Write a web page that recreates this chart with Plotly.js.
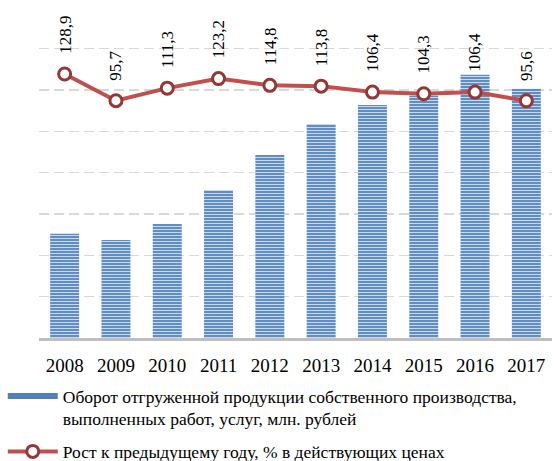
<!DOCTYPE html>
<html>
<head>
<meta charset="utf-8">
<script src="https://cdn.plot.ly/plotly-3.0.1.min.js"></script>
<style>html,body{margin:0;padding:0;background:#fff;}#chart{width:554px;height:461px;}</style>
</head>
<body>
<div id="chart"></div>
<script>
const years = ['2008','2009','2010','2011','2012','2013','2014','2015','2016','2017'];
const turnover = [2520, 2370, 2760, 3580, 4430, 5180, 5640, 5860, 6370, 6030];
const growth = [128.9, 95.7, 111.3, 123.2, 114.8, 113.8, 106.4, 104.3, 106.4, 95.6];
const growthLabels = ['128,9','95,7','111,3','123,2','114,8','113,8','106,4','104,3','106,4','95,6'];
const barName = 'Оборот отгруженной продукции собственного производства,<br>выполненных работ, услуг, млн. рублей';
const lineName = 'Рост к предыдущему году, % в действующих ценах';

const serif = 'Liberation Serif, Times New Roman, serif';

const traces = [
  {
    type: 'bar', x: years, y: turnover, name: barName, showlegend: false,
    marker: {
      color: '#4a7ebb',
      line: {width: 0},
      pattern: {shape: '-', fgcolor: '#c8d9f0', bgcolor: '#4a7ebb', size: 3, solidity: 0.45}
    },
    hoverinfo: 'skip'
  },
  {
    type: 'scatter', mode: 'lines', x: [years[0], years[1]], y: [null, null], name: barName,
    legendgroup: 'a', line: {color: '#4f81bd', width: 6}, showlegend: true, hoverinfo: 'skip'
  },
  {
    type: 'scatter', mode: 'lines+markers', x: years, y: growth, yaxis: 'y2', name: lineName,
    legendgroup: 'b',
    line: {color: '#c0504d', width: 4},
    marker: {symbol: 'circle', size: 12, color: '#ffffff', line: {color: '#953735', width: 3}},
    cliponaxis: false
  }
];

const annotations = years.map((yr, i) => ({
  x: i, y: growth[i], xref: 'x', yref: 'y2',
  text: growthLabels[i], showarrow: false, textangle: -90,
  yanchor: 'bottom', xanchor: 'center', yshift: 18,
  font: {family: serif, size: 17, color: '#000'}
}));

const layout = {
  width: 554, height: 461,
  margin: {l: 39, r: 2, t: 42, b: 123, autoexpand: false},
  paper_bgcolor: '#fff', plot_bgcolor: '#fff',
  bargap: 0.435,
  font: {family: serif, color: '#000'},
  xaxis: {
    type: 'category', categoryorder: 'array', categoryarray: years, range: [-0.5, 9.5],
    showgrid: false, showline: true, linecolor: '#bfbfbf', linewidth: 2.5,
    ticks: '', tickfont: {family: serif, size: 19, color: '#000'}, ticklabelstandoff: 9,
    automargin: false
  },
  yaxis: {
    range: [0, 7162], dtick: 1000, showgrid: true, gridcolor: '#d9d9d9', gridwidth: 1.5,
    griddash: '10px,5px', showticklabels: false, zeroline: false, ticks: '', automargin: false
  },
  yaxis2: {
    overlaying: 'y', side: 'right', range: [-199.5, 168.7], showgrid: false,
    showticklabels: false, zeroline: false, ticks: '', automargin: false
  },
  showlegend: true,
  legend: {
    xref: 'container', yref: 'container', x: 0.005, y: 0.18, yanchor: 'top', xanchor: 'left',
    orientation: 'h', itemwidth: 50, valign: 'top', tracegroupgap: 7,
    font: {family: serif, size: 17.5, color: '#000'},
    bgcolor: 'rgba(0,0,0,0)'
  },
  annotations: annotations
};
// keep the vertical legend but placed in paper coordinates (no margin push with autoexpand off)
layout.legend = {
  xref: 'paper', yref: 'paper', x: -39.8 / 513 * 1 - 0.0, y: -(378 - 338) / 296, yanchor: 'top', xanchor: 'left',
  orientation: 'v', itemwidth: 50, valign: 'top', tracegroupgap: 7,
  font: {family: serif, size: 17.5, color: '#000'},
  bgcolor: 'rgba(0,0,0,0)'
};
layout.legend.x = -0.0706;

Plotly.newPlot('chart', traces, layout, {displayModeBar: false, staticPlot: true});
</script>
</body>
</html>
